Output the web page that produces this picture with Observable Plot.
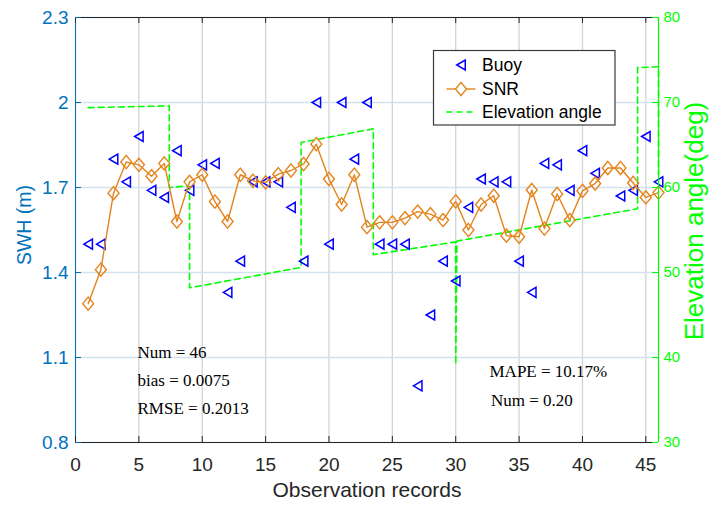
<!DOCTYPE html>
<html>
<head>
<meta charset="utf-8">
<script src="https://cdn.jsdelivr.net/npm/d3@7"></script>
<script src="https://cdn.jsdelivr.net/npm/@observablehq/plot@0.6"></script>
<style>
  html, body { margin: 0; padding: 0; background: #fff; }
  #wrap { position: relative; width: 711px; height: 507px; }
  #wrap svg { position: absolute; left: 0; top: 0; }
</style>
</head>
<body>
<div id="wrap"></div>
<script>
// ---------- data ----------
const recordX = d3.range(1, 47);
const snrSWH = [1.29,1.41,1.68,1.79,1.78,1.74,1.785,1.58,1.72,1.745,1.65,1.58,1.745,1.724,1.718,1.747,1.76,1.783,1.853,1.73,1.64,1.745,1.56,1.577,1.577,1.592,1.615,1.606,1.585,1.651,1.55,1.64,1.671,1.53,1.526,1.691,1.555,1.677,1.585,1.688,1.714,1.769,1.769,1.716,1.665,1.682];
const buoyX = [1,2,3,4,5,6,7,8,9,10,11,12,13,14,15,16,17,18,19,20,21,22,23,24,25,26,27,28,29,30,31,32,33,34,35,36,37,38,39,40,41,43,44,45,46];
const buoySWH = [1.50,1.50,1.80,1.72,1.88,1.69,1.665,1.83,1.69,1.78,1.785,1.33,1.44,1.72,1.72,1.72,1.63,1.44,2.00,1.50,2.00,1.80,2.00,1.50,1.50,1.50,1.00,1.25,1.44,1.37,1.63,1.73,1.72,1.72,1.44,1.33,1.785,1.78,1.69,1.83,1.75,1.67,1.69,1.88,1.72];
const elevX   = [1, 7.4, 7.4, 8.9, 9, 9, 17.8, 17.8, 23.5, 23.5, 30, 30, 30.1, 44.35, 44.35, 46, 46];
const elevDeg = [69.4, 69.6, 60, 60.2, 60, 48.2, 50.6, 65.3, 66.9, 52.1, 53.6, 39.2, 53.7, 57.5, 74.1, 74.2, 61.5];
const xTicks = [0,5,10,15,20,25,30,35,40,45];
const yTicks = [0.8,1.1,1.4,1.7,2,2.3];
const rightTicks = [30,40,50,60,70,80];
const seriesNames = ["Buoy","SNR","Elevation angle"];
const statsLeft = ["Num = 46","bias = 0.0075","RMSE = 0.2013"];
const statsRight = ["MAPE = 10.17%","Num = 0.20"];

// ---------- helpers ----------
const yDomain = [0.8, 2.3], degDomain = [30, 80];
const degToY = d => yDomain[0] + (d - degDomain[0]) * (yDomain[1]-yDomain[0])/(degDomain[1]-degDomain[0]);
const yToDeg = v => Math.round(degDomain[0] + (v - yDomain[0]) * (degDomain[1]-degDomain[0])/(yDomain[1]-yDomain[0]));

const snr = recordX.map((x,i) => ({x, v: snrSWH[i]}));
const buoy = buoyX.map((x,i) => ({x, v: buoySWH[i]}));
const elev = elevX.map((x,i) => ({x, v: degToY(elevDeg[i])}));

const triLeft = {draw(ctx, size){ const r = Math.sqrt(size/Math.PI); ctx.moveTo(-r*0.85,0); ctx.lineTo(r*0.85,-r); ctx.lineTo(r*0.85,r); ctx.closePath(); }};
const diamond = {draw(ctx, size){ const r = Math.sqrt(size/Math.PI); ctx.moveTo(0,-1.2*r); ctx.lineTo(r,0); ctx.lineTo(0,1.2*r); ctx.lineTo(-r,0); ctx.closePath(); }};

const W = 711, H = 507, mL = 75, mR = 53, mT = 17, mB = 65;
const pW = W - mL - mR, pH = H - mT - mB;
const BLUE_AX = "#0072BD", GREEN = "#00ff00", ORANGE = "#e3841c", BUOY = "#0000ff", DARK = "#262626";

const chart = Plot.plot({
  width: W, height: H,
  marginLeft: mL, marginRight: mR, marginTop: mT, marginBottom: mB,
  style: {fontFamily: "'Liberation Sans', Arial, sans-serif", fontSize: "19px", background: "#fff", overflow: "visible"},
  x: {domain: [0, 46]},
  y: {domain: yDomain},
  marks: [
    Plot.gridX(xTicks, {stroke: "#d4d4d4", strokeOpacity: 1, strokeWidth: 1.3}),
    Plot.gridY(yTicks, {stroke: "#d3e2ef", strokeOpacity: 1, strokeWidth: 1.6}),
    Plot.line(elev, {x: "x", y: "v", stroke: GREEN, strokeWidth: 1.6, strokeDasharray: "6,4"}),
    Plot.dot(buoy, {x: "x", y: "v", symbol: triLeft, r: 5, stroke: BUOY, strokeWidth: 1.5, fill: "none"}),
    Plot.line(snr, {x: "x", y: "v", stroke: ORANGE, strokeWidth: 1.4}),
    Plot.dot(snr, {x: "x", y: "v", symbol: diamond, r: 5.5, stroke: ORANGE, strokeWidth: 1.4, fill: "none"}),
    // frame
    Plot.ruleY([yDomain[1]], {stroke: DARK, strokeWidth: 1}),
    Plot.ruleY([yDomain[0]], {stroke: DARK, strokeWidth: 1}),
    Plot.ruleX([0], {stroke: BLUE_AX, strokeWidth: 1}),
    Plot.ruleX([46], {stroke: GREEN, strokeWidth: 1.2}),
    // inward ticks
    Plot.tickX(xTicks, {x: d => d, insetTop: pH - 6, stroke: DARK}),
    Plot.tickX(xTicks, {x: d => d, insetBottom: pH - 6, stroke: DARK}),
    Plot.tickY(yTicks, {y: d => d, insetRight: pW - 6, stroke: BLUE_AX}),
    Plot.tickY(rightTicks.map(degToY), {y: d => d, insetLeft: pW - 6, stroke: GREEN}),
    // axis labels
    Plot.axisX(xTicks, {tickSize: 0, tickPadding: 15, label: null, fill: DARK, fontSize: 19}),
    Plot.axisY(yTicks, {anchor: "left", tickSize: 0, tickPadding: 7, label: null, fill: BLUE_AX, fontSize: 19, tickFormat: d => String(d)}),
    Plot.axisY(rightTicks.map(degToY), {anchor: "right", tickSize: 0, tickPadding: 5, label: null, fill: GREEN, fontSize: 15, tickFormat: v => String(yToDeg(v))}),
    Plot.text(["Observation records"], {text: d => d, frameAnchor: "bottom", textAnchor: "middle", dy: 54, fill: DARK, fontSize: 21}),
    Plot.text(["SWH (m)"], {text: d => d, frameAnchor: "left", textAnchor: "middle", dx: -51, dy: -5, rotate: -90, fill: BLUE_AX, fontSize: 19.5}),
    Plot.text(["Elevation angle(deg)"], {text: d => d, frameAnchor: "right", textAnchor: "middle", dx: 36, dy: -9, rotate: -90, fill: GREEN, fontSize: 26}),
    // stats annotations
    ...statsLeft.map((s, i) => Plot.text([s], {text: d => d, frameAnchor: "bottom-left", dx: 62, dy: -85 + i*28.3, textAnchor: "start", lineAnchor: "bottom", fontFamily: "'Liberation Serif', 'Times New Roman', serif", fontSize: 17, fill: "#000"})),
    ...statsRight.map((s, i) => Plot.text([s], {text: d => d, frameAnchor: "bottom-left", dx: 414 + i*1.5, dy: -65.3 + i*28.3, textAnchor: "start", lineAnchor: "bottom", fontFamily: "'Liberation Serif', 'Times New Roman', serif", fontSize: 17, fill: "#000"}))
  ]
});

const wrap = document.getElementById("wrap");
wrap.appendChild(chart);

// ---------- legend overlay ----------
const leg = d3.select(wrap).append("svg").attr("width", W).attr("height", H)
  .style("font-family", "'Liberation Sans', Arial, sans-serif").style("font-size", "17.5px");
const bx = 433.5, by = 50.5, bw = 181.5, bh = 74.5;
leg.append("rect").attr("x", bx).attr("y", by).attr("width", bw).attr("height", bh)
  .attr("fill", "#fff").attr("stroke", "#3a3a3a").attr("stroke-width", 1.2);
const rowY = [65, 89, 112];
const symX = 461, lineX1 = 446.5, lineX2 = 475.5, textX = 482;
// Buoy
leg.append("path").attr("d", d3.symbol(triLeft, Math.PI*25)()).attr("transform", `translate(${symX},${rowY[0]})`)
  .attr("fill", "none").attr("stroke", BUOY).attr("stroke-width", 1.5);
// SNR
leg.append("line").attr("x1", lineX1).attr("x2", lineX2).attr("y1", rowY[1]).attr("y2", rowY[1]).attr("stroke", ORANGE).attr("stroke-width", 1.4);
leg.append("path").attr("d", d3.symbol(diamond, Math.PI*5.5*5.5)()).attr("transform", `translate(${symX},${rowY[1]})`)
  .attr("fill", "#fff").attr("stroke", ORANGE).attr("stroke-width", 1.4);
// Elevation
leg.append("line").attr("x1", lineX1).attr("x2", lineX2).attr("y1", rowY[2]).attr("y2", rowY[2]).attr("stroke", GREEN).attr("stroke-width", 1.6).attr("stroke-dasharray", "6,4");
seriesNames.forEach((n, i) => {
  leg.append("text").attr("x", textX).attr("y", rowY[i]).attr("dy", "0.36em").attr("fill", "#000").text(n);
});
</script>
</body>
</html>
